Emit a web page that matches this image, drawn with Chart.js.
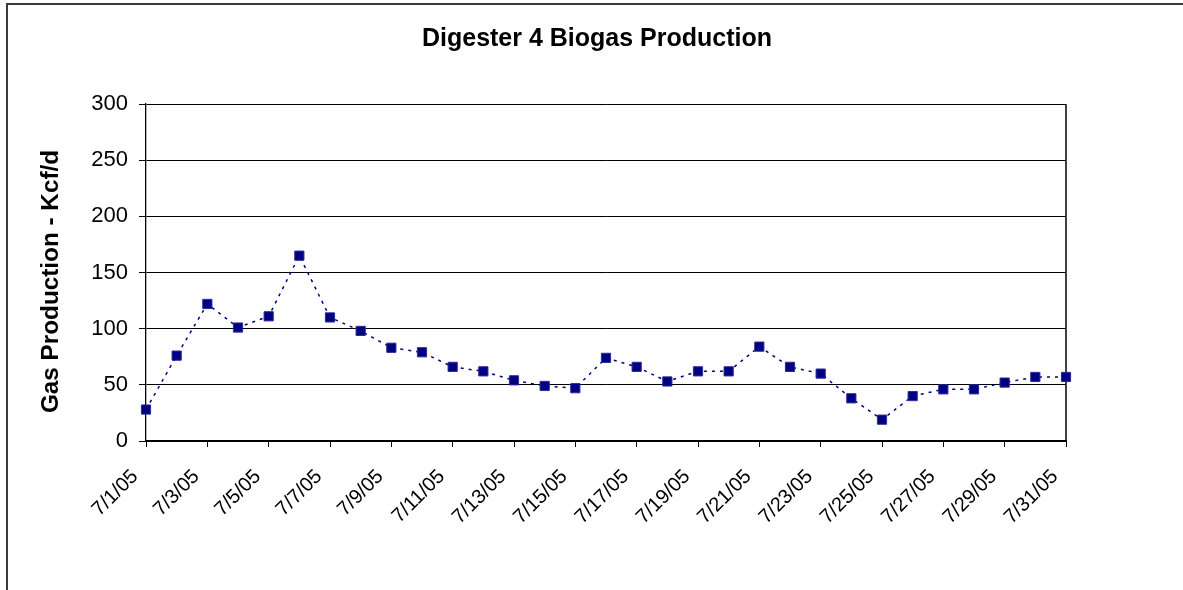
<!DOCTYPE html>
<html lang="en">
<head>
<meta charset="UTF-8">
<title>Digester 4 Biogas Production</title>
<script src="https://cdn.jsdelivr.net/npm/chart.js"></script>
<style>
    html, body { margin: 0; padding: 0; background: #fff; overflow: hidden; }
    #wrap { position: relative; width: 1183px; height: 590px; }
</style>
</head>
<body>
<div id="wrap">
    <canvas id="grafico" width="1183" height="590"></canvas>
</div>

<script>
    // dados
    const dias = ['7/1/05', '7/2/05', '7/3/05', '7/4/05', '7/5/05', '7/6/05', '7/7/05', '7/8/05',
        '7/9/05', '7/10/05', '7/11/05', '7/12/05', '7/13/05', '7/14/05', '7/15/05', '7/16/05',
        '7/17/05', '7/18/05', '7/19/05', '7/20/05', '7/21/05', '7/22/05', '7/23/05', '7/24/05',
        '7/25/05', '7/26/05', '7/27/05', '7/28/05', '7/29/05', '7/30/05', '7/31/05'];
    const producao = [28, 76, 122, 101, 111, 165, 110, 98, 83, 79, 66, 62, 54, 49, 47, 74,
        66, 53, 62, 62, 84, 66, 60, 38, 19, 40, 46, 46, 52, 57, 57];
    const yMin = 0;
    const yMax = 300;
    const yPasso = 50;
    const xPasso = 2;   // so mostra um rotulo a cada 2 dias
    const titulo = 'Digester 4 Biogas Production';
    const tituloY = 'Gas Production - Kcf/d';

    Chart.defaults.font.family = '"Liberation Sans", Arial, sans-serif';
    Chart.defaults.color = '#000';

    const pontos = producao.map(function (v, i) { return { x: i, y: v }; });

    // moldura externa, borda direita da area do grafico, titulo e titulo do eixo Y
    const moldura = {
        id: 'moldura',
        beforeDraw(chart) {
            const ctx = chart.ctx;
            ctx.save();
            ctx.fillStyle = '#fff';
            ctx.fillRect(0, 0, chart.width, chart.height);
            ctx.restore();
        },
        beforeDatasetsDraw(chart) {
            const ctx = chart.ctx;
            const a = chart.chartArea;
            ctx.save();
            ctx.strokeStyle = '#000';
            ctx.lineWidth = 1.5;
            ctx.beginPath();
            ctx.moveTo(a.right, a.top);
            ctx.lineTo(a.right, a.bottom);
            ctx.stroke();
            ctx.restore();
        },
        afterDraw(chart) {
            const ctx = chart.ctx;
            ctx.save();
            ctx.fillStyle = '#3a3a3a';
            ctx.fillRect(6, 3, chart.width, 2);
            ctx.fillRect(6, 3, 2, chart.height);

            ctx.fillStyle = '#000';
            ctx.textAlign = 'center';
            ctx.textBaseline = 'middle';
            ctx.font = 'bold 25px "Liberation Sans", Arial, sans-serif';
            ctx.fillText(titulo, 597, 39);

            ctx.translate(51, 281.5);
            ctx.rotate(-Math.PI / 2);
            ctx.font = 'bold 24.3px "Liberation Sans", Arial, sans-serif';
            ctx.fillText(tituloY, 0, 0);
            ctx.restore();
        }
    };

    const ctx = document.getElementById('grafico').getContext('2d');
    const grafico = new Chart(ctx, {
        type: 'line',
        data: {
            datasets: [{
                label: tituloY,
                data: pontos,
                borderColor: '#000080',
                borderWidth: 1.5,
                borderDash: [3, 5],
                backgroundColor: '#000080',
                pointStyle: 'rect',
                pointRadius: 6.5,
                pointHoverRadius: 6.5,
                pointBackgroundColor: '#000080',
                pointBorderColor: '#2a2a9a',
                pointBorderWidth: 1,
                tension: 0,
                fill: false,
                clip: false
            }]
        },
        options: {
            responsive: false,
            devicePixelRatio: 1,
            animation: false,
            layout: {
                padding: { left: 12, right: 117, top: 104, bottom: 0 }
            },
            plugins: {
                legend: { display: false },
                tooltip: { enabled: false },
                title: { display: false }
            },
            scales: {
                x: {
                    type: 'linear',
                    min: 0,
                    max: dias.length - 1,
                    border: { color: '#000', width: 2 },
                    grid: { drawOnChartArea: false, color: '#000', tickLength: 6, lineWidth: 1 },
                    ticks: {
                        stepSize: xPasso,
                        autoSkip: false,
                        maxRotation: 45,
                        minRotation: 45,
                        padding: 18,
                        labelOffset: -11,
                        color: '#000',
                        font: { size: 20 },
                        callback: function (v) { return dias[v]; }
                    },
                    afterFit: function (s) { s.height = 149; }
                },
                y: {
                    min: yMin,
                    max: yMax,
                    border: { color: '#000', width: 1.3 },
                    grid: { color: '#000', tickLength: 7, lineWidth: 1 },
                    ticks: {
                        stepSize: yPasso,
                        padding: 11,
                        color: '#000',
                        font: { size: 22 }
                    },
                    afterFit: function (s) { s.width = 134; }
                }
            }
        },
        plugins: [moldura]
    });
</script>
</body>
</html>
